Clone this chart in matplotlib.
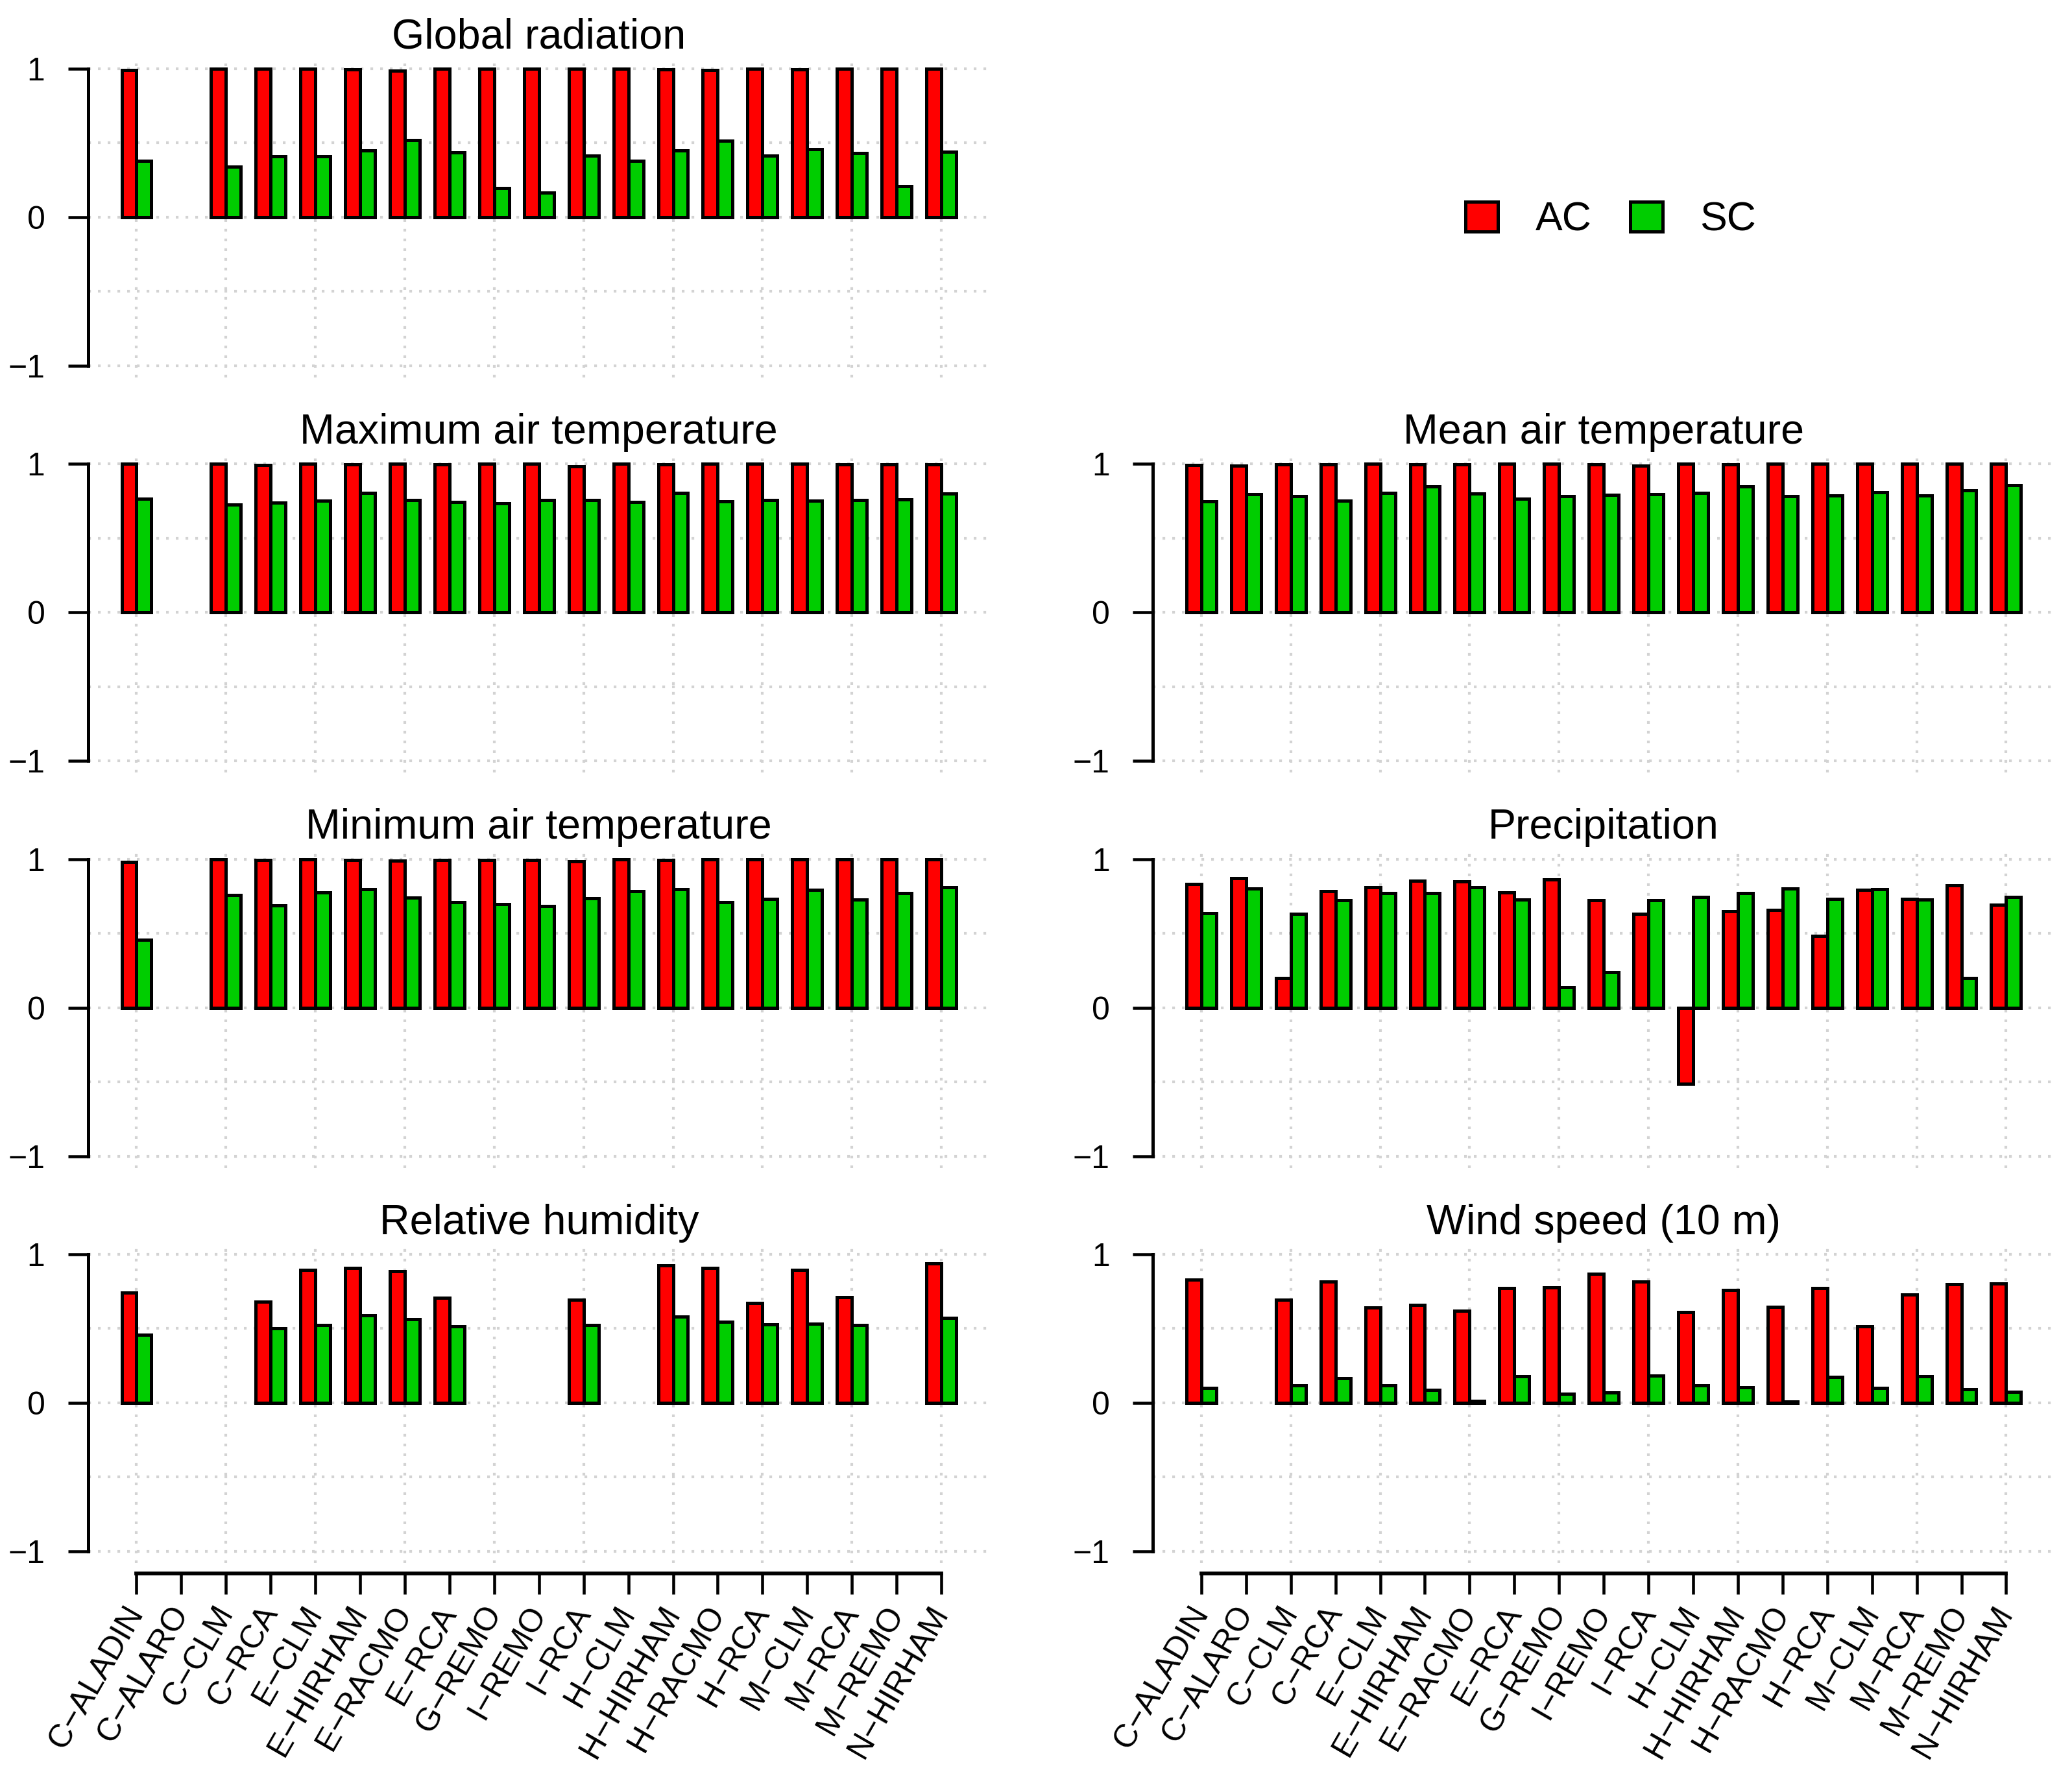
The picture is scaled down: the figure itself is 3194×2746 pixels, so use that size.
import numpy as np
import matplotlib
matplotlib.use('Agg')
import matplotlib.pyplot as plt
from matplotlib.patches import Patch

plt.rcParams['font.family'] = ['Liberation Sans', 'DejaVu Sans']

nan = np.nan

# Regional climate models (x categories)
models = ["C\u2212ALADIN", "C\u2212ALARO", "C\u2212CLM", "C\u2212RCA", "E\u2212CLM",
          "E\u2212HIRHAM", "E\u2212RACMO", "E\u2212RCA", "G\u2212REMO", "I\u2212REMO",
          "I\u2212RCA", "H\u2212CLM", "H\u2212HIRHAM", "H\u2212RACMO", "H\u2212RCA",
          "M\u2212CLM", "M\u2212RCA", "M\u2212REMO", "N\u2212HIRHAM"]

# AC / SC per variable (NaN = not available)
glob_ac = [0.99, nan, 1.0, 1.0, 1.0, 0.995, 0.985, 1.0, 1.0, 1.0,
           1.0, 1.0, 0.995, 0.99, 1.0, 0.995, 1.0, 1.0, 1.0]
glob_sc = [0.38, nan, 0.34, 0.41, 0.41, 0.45, 0.52, 0.435, 0.195, 0.165,
           0.415, 0.38, 0.45, 0.515, 0.415, 0.46, 0.43, 0.21, 0.44]

tmax_ac = [1.0, nan, 1.0, 0.993, 1.0, 0.998, 1.0, 0.998, 1.0, 1.0,
           0.984, 1.0, 0.998, 1.0, 1.0, 1.0, 0.997, 0.998, 0.998]
tmax_sc = [0.767, nan, 0.726, 0.74, 0.753, 0.803, 0.758, 0.744, 0.733, 0.758,
           0.758, 0.742, 0.803, 0.746, 0.758, 0.751, 0.758, 0.763, 0.80]

tmean_ac = [0.993, 0.99, 0.998, 0.998, 1.0, 0.998, 0.998, 1.0, 1.0, 0.998,
            0.986, 1.0, 0.998, 1.0, 1.0, 1.0, 1.0, 1.0, 1.0]
tmean_sc = [0.749, 0.794, 0.782, 0.754, 0.803, 0.85, 0.80, 0.767, 0.782, 0.79,
            0.794, 0.803, 0.85, 0.782, 0.786, 0.81, 0.786, 0.82, 0.855]

tmin_ac = [0.98, nan, 1.0, 0.995, 1.0, 0.995, 0.99, 0.995, 0.995, 0.995,
           0.983, 1.0, 0.995, 1.0, 1.0, 1.0, 1.0, 1.0, 1.0]
tmin_sc = [0.456, nan, 0.757, 0.69, 0.776, 0.798, 0.74, 0.71, 0.697, 0.683,
           0.737, 0.783, 0.798, 0.711, 0.732, 0.795, 0.729, 0.772, 0.81]

prec_ac = [0.831, 0.87, 0.20, 0.786, 0.812, 0.854, 0.85, 0.774, 0.864, 0.723,
           0.631, -0.513, 0.65, 0.657, 0.482, 0.791, 0.732, 0.823, 0.692]
prec_sc = [0.635, 0.803, 0.63, 0.725, 0.772, 0.772, 0.809, 0.729, 0.137, 0.24,
           0.723, 0.746, 0.772, 0.803, 0.732, 0.797, 0.729, 0.20, 0.746]

rh_ac = [0.74, nan, nan, 0.683, 0.893, 0.907, 0.885, 0.709, nan, nan,
         0.696, nan, 0.924, 0.91, 0.672, 0.896, 0.711, nan, 0.937]
rh_sc = [0.459, nan, nan, 0.502, 0.524, 0.59, 0.563, 0.514, nan, nan,
         0.524, nan, 0.58, 0.545, 0.528, 0.533, 0.524, nan, 0.572]

wind_ac = [0.828, nan, 0.696, 0.818, 0.642, 0.66, 0.618, 0.774, 0.779, 0.867,
           0.818, 0.613, 0.761, 0.647, 0.772, 0.517, 0.73, 0.797, 0.805]
wind_sc = [0.102, nan, 0.119, 0.167, 0.119, 0.089, 0.013, 0.18, 0.06, 0.068,
           0.182, 0.119, 0.106, 0.008, 0.176, 0.098, 0.18, 0.093, 0.075]

panels = [
    ("Global radiation", glob_ac, glob_sc, 0, 0),
    ("Maximum air temperature", tmax_ac, tmax_sc, 1, 0),
    ("Mean air temperature", tmean_ac, tmean_sc, 1, 1),
    ("Minimum air temperature", tmin_ac, tmin_sc, 2, 0),
    ("Precipitation", prec_ac, prec_sc, 2, 1),
    ("Relative humidity", rh_ac, rh_sc, 3, 0),
    ("Wind speed (10 m)", wind_ac, wind_sc, 3, 1),
]

RED = "#FF0000"
GREEN = "#00CD00"
GRID = "#D3D3D3"

W, H = 3194, 2746
fig = plt.figure(figsize=(W / 300, H / 300), dpi=300)

col_x = [0.0426, 0.5565]
row_y = [0.7880, 0.5661, 0.3442, 0.1223]
ax_w, ax_h = 0.435, 0.1801

centers = 2 + 3 * np.arange(len(models))

for title, ac, sc, r, c in panels:
    ax = fig.add_axes([col_x[c], row_y[r], ax_w, ax_h])
    ac = np.array(ac, dtype=float)
    sc = np.array(sc, dtype=float)

    # dotted grid behind the bars
    for yv in [-1, -0.5, 0, 0.5, 1]:
        ax.axhline(yv, color=GRID, lw=1.0, dashes=(1, 2.6), zorder=0)
    for xv in centers[::2]:
        ax.axvline(xv, color=GRID, lw=1.0, dashes=(1, 2.6), zorder=0)

    ok = ~np.isnan(ac)
    ax.bar(centers[ok] - 0.5, ac[ok], width=1.0, color=RED,
           edgecolor="black", linewidth=1.2, zorder=2)
    ok = ~np.isnan(sc)
    ax.bar(centers[ok] + 0.5, sc[ok], width=1.0, color=GREEN,
           edgecolor="black", linewidth=1.2, zorder=2)

    ax.set_xlim(-1.24, 59.24)
    ax.set_ylim(-1.08, 1.08)
    ax.set_title(title, fontsize=15.5, pad=2.6)

    for s in ["top", "right"]:
        ax.spines[s].set_visible(False)
    ax.spines["left"].set_bounds(-1, 1)
    ax.spines["left"].set_linewidth(1.2)
    ax.set_yticks([-1, 0, 1])
    ax.set_yticklabels(["\u22121", "0", "1"])
    ax.tick_params(axis="y", length=7.4, width=1.1, pad=8.6, labelsize=12)

    if r == 3:
        ax.spines["bottom"].set_bounds(centers[0], centers[-1])
        ax.spines["bottom"].set_position(("outward", 3.8))
        ax.spines["bottom"].set_linewidth(1.4)
        ax.set_xticks(centers)
        ax.set_xticklabels(models, rotation=60, ha="right", va="center",
                           rotation_mode="anchor", fontsize=12)
        ax.tick_params(axis="x", length=7.7, width=1.1, pad=5)
    else:
        ax.spines["bottom"].set_visible(False)
        ax.set_xticks([])

handles = [Patch(facecolor=RED, edgecolor="black", linewidth=1.2, label="AC"),
           Patch(facecolor=GREEN, edgecolor="black", linewidth=1.2, label="SC")]
fig.legend(handles=handles, loc="center", bbox_to_anchor=(0.7775, 0.8765),
           ncol=2, frameon=False, fontsize=15, handlelength=0.8,
           handleheight=0.75, handletextpad=0.92, columnspacing=0.95)

fig.savefig("out.png", dpi=300)
